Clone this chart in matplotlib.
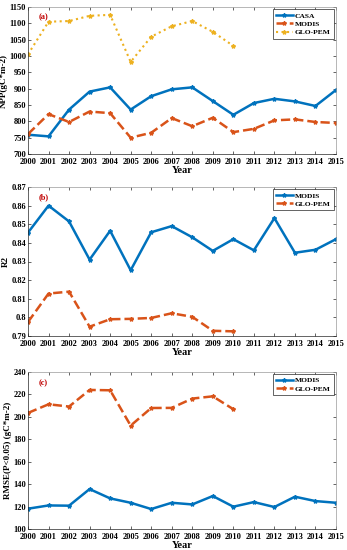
import numpy as np
import matplotlib.pyplot as plt

# ----------------- data -------------------------------
years = list(range(2000, 2016))
years_glo = list(range(2000, 2011))

npp_casa = [759, 754, 836, 891, 904, 836, 877, 898, 904, 862, 820, 856, 869, 861, 847, 896]
npp_modis = [761, 822, 798, 830, 825, 750, 765, 810, 785, 811, 767, 777, 803, 806, 798, 795]
npp_glo = [1005, 1105, 1107, 1123, 1126, 982, 1059, 1091, 1107, 1074, 1031]

r2_modis = [0.8455, 0.8600, 0.8515, 0.8310, 0.8465, 0.8253, 0.8457, 0.8490, 0.8430, 0.8357, 0.8420, 0.8360, 0.8533, 0.8347, 0.8363, 0.8420]
r2_glo = [0.7975, 0.8128, 0.8138, 0.7950, 0.7990, 0.7992, 0.7997, 0.8022, 0.8003, 0.7928, 0.7925]

rmse_modis = [118.1, 121.0, 120.8, 135.6, 127.3, 123.4, 117.8, 123.4, 121.9, 129.4, 119.9, 124.0, 119.6, 128.8, 124.9, 123.4]
rmse_glo = [203.5, 211.2, 209.2, 224.0, 223.7, 192.2, 207.9, 208.0, 216.3, 218.3, 206.8]

# ----------------- style -------------------------------
plt.rcParams['font.family'] = ['Liberation Serif', 'DejaVu Serif']
plt.rcParams['font.weight'] = 'bold'
plt.rcParams['axes.labelweight'] = 'bold'

blue = '#0072BD'
orange = '#D95319'
yellow = '#EDB120'
W, H = 347, 550

fig = plt.figure(figsize=(W / 100, H / 100), dpi=100)


def make_axes(top, bottom):
    return fig.add_axes([28 / W, 1 - bottom / H, (336 - 28) / W, (bottom - top) / H])


def style(ax, ylim, yticks, ylabels, ylabel, tag):
    ax.set_xlim(2000, 2015)
    ax.set_xticks(years)
    ax.set_xticklabels([str(y) for y in years])
    ax.set_ylim(*ylim)
    ax.set_yticks(yticks)
    ax.set_yticklabels(ylabels)
    ax.tick_params(direction='in', length=2.5, width=0.5, labelsize=6, pad=1.5,
                   top=True, right=True, colors='#262626')
    ax.tick_params(axis='x', pad=3)
    for lab in ax.get_xticklabels() + ax.get_yticklabels():
        lab.set_color('black')
    for s in ax.spines.values():
        s.set_linewidth(0.5)
        s.set_color('#9a9a9a')
    ax.spines['left'].set_color('#262626')
    ax.spines['bottom'].set_color('#262626')
    ax.set_xlabel('Year', fontsize=7.5, labelpad=0)
    ax.set_ylabel(ylabel, fontsize=6.5, labelpad=1)
    ax.text(0.035, 0.93, tag, transform=ax.transAxes, color='#C00000',
            fontsize=6, fontweight='bold', va='center')
    leg = ax.legend(loc='upper right', fontsize=5.4, handlelength=2.2,
                    borderpad=0.4, labelspacing=0.3, handletextpad=0.3,
                    fancybox=False, framealpha=1, borderaxespad=0.3)
    leg.get_frame().set_edgecolor('#262626')
    leg.get_frame().set_linewidth(0.5)


# panel (a)
ax = make_axes(7, 154)
ax.plot(years, npp_casa, '-', color=blue, lw=1.8, marker='*', ms=3, label='CASA')
ax.plot(years, npp_modis, '--', color=orange, lw=1.8, marker='*', ms=3, label='MODIS')
ax.plot(years_glo, npp_glo, ':', color=yellow, lw=1.5, marker='*', ms=3, label='GLO-PEM')
style(ax, (700, 1150), np.arange(700, 1151, 50), [str(v) for v in range(700, 1151, 50)],
      'NPP(gC*m-2)', '(a)')

# panel (b)
ax = make_axes(187, 336)
ax.plot(years, r2_modis, '-', color=blue, lw=1.8, marker='*', ms=3, label='MODIS')
ax.plot(years_glo, r2_glo, '--', color=orange, lw=1.8, marker='*', ms=3, label='GLO-PEM')
r2_ticks = [0.79, 0.80, 0.81, 0.82, 0.83, 0.84, 0.85, 0.86, 0.87]
r2_labels = ['0.79', '0.8', '0.81', '0.82', '0.83', '0.84', '0.85', '0.86', '0.87']
style(ax, (0.79, 0.87), r2_ticks, r2_labels, 'R2', '(b)')

# panel (c)
ax = make_axes(372, 529)
ax.plot(years, rmse_modis, '-', color=blue, lw=1.8, marker='*', ms=3, label='MODIS')
ax.plot(years_glo, rmse_glo, '--', color=orange, lw=1.8, marker='*', ms=3, label='GLO-PEM')
style(ax, (100, 240), np.arange(100, 241, 20), [str(v) for v in range(100, 241, 20)],
      'RMSE(P<0.05) (gC*m-2)', '(c)')

fig.savefig('out.png', dpi=100)
